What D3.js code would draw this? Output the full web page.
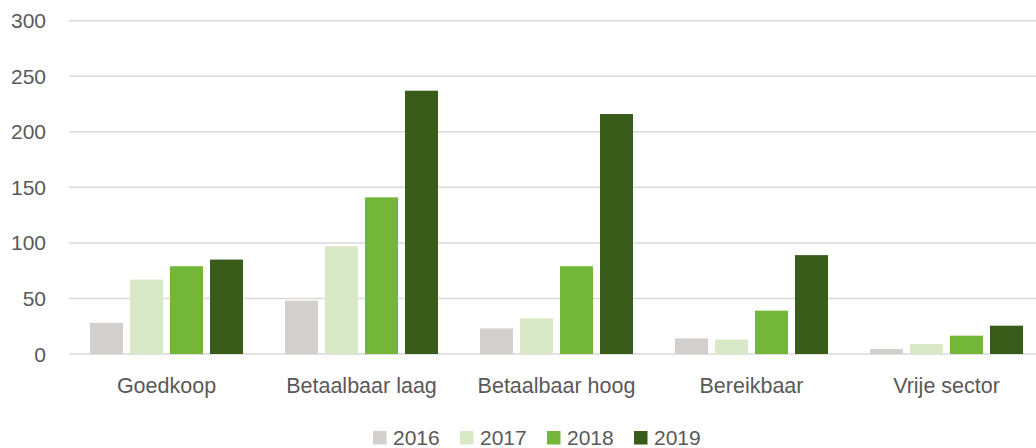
<!DOCTYPE html>
<html>
<head>
<meta charset="utf-8">
<script src="https://cdn.jsdelivr.net/npm/d3@7"></script>
<style>
  body { margin: 0; background: #fff; }
  svg { display: block; font-family: "Liberation Sans", Arial, sans-serif; }
</style>
</head>
<body>
<svg id="chart" width="1036" height="448"></svg>
<script>
// data
let categories = ['Goedkoop', 'Betaalbaar laag', 'Betaalbaar hoog', 'Bereikbaar', 'Vrije sector'];
let years = ['2016', '2017', '2018', '2019'];
let v2016 = [28, 48, 23, 14, 4.5];
let v2017 = [67, 97, 32, 13, 9];
let v2018 = [79, 141, 79, 39, 16.5];
let v2019 = [85, 237, 216, 89, 25.5];
let yTicks = [0, 50, 100, 150, 200, 250, 300];
let colors = ['#d3cfcc', '#d9e8c6', '#74b637', '#3a5c1a'];

let series = [v2016, v2017, v2018, v2019];

let svg = d3.select('#chart');
let textColor = '#595959';

let x0 = d3.scaleBand().domain(categories).range([69, 1044]);
let x1 = d3.scaleBand().domain(years).range([17.5, 177.5]).paddingInner(0.175).paddingOuter(0.0875);
let y = d3.scaleLinear().domain([0, 300]).range([354, 20.7]);

// gridlines
svg.append('g').selectAll('line').data(yTicks).enter()
    .append('line')
    .attr('x1', 69)
    .attr('x2', 1036)
    .attr('y1', d => y(d))
    .attr('y2', d => y(d))
    .attr('stroke', '#d9d9d9')
    .attr('stroke-width', 1.5);

// y tick labels
svg.append('g').selectAll('text').data(yTicks).enter()
    .append('text')
    .attr('x', 46)
    .attr('y', d => y(d))
    .attr('dy', '0.36em')
    .attr('text-anchor', 'end')
    .attr('font-size', 21)
    .attr('fill', textColor)
    .text(d => d);

// bars
let groups = svg.append('g').selectAll('g').data(categories).enter()
    .append('g')
    .attr('transform', d => 'translate(' + x0(d) + ',0)');

groups.selectAll('rect')
    .data((d, ci) => years.map((yr, i) => ({ yr: yr, i: i, v: series[i][ci] })))
    .enter()
    .append('rect')
    .attr('x', d => x1(d.yr))
    .attr('width', x1.bandwidth())
    .attr('y', d => y(d.v))
    .attr('height', d => y(0) - y(d.v))
    .attr('fill', d => colors[d.i]);

// category labels
svg.append('g').selectAll('text').data(categories).enter()
    .append('text')
    .attr('x', d => x0(d) + x0.bandwidth() / 2)
    .attr('y', 393)
    .attr('text-anchor', 'middle')
    .attr('font-size', 21.5)
    .attr('fill', textColor)
    .text(d => d);

// legend
let legend = svg.append('g').selectAll('g').data(years).enter()
    .append('g')
    .attr('transform', (d, i) => 'translate(' + (373 + i * 87) + ',0)');
legend.append('rect')
    .attr('x', 0)
    .attr('y', 431)
    .attr('width', 13.5)
    .attr('height', 13.5)
    .attr('fill', (d, i) => colors[i]);
legend.append('text')
    .attr('x', 20)
    .attr('y', 444.5)
    .attr('font-size', 21)
    .attr('fill', textColor)
    .text(d => d);
</script>
</body>
</html>
